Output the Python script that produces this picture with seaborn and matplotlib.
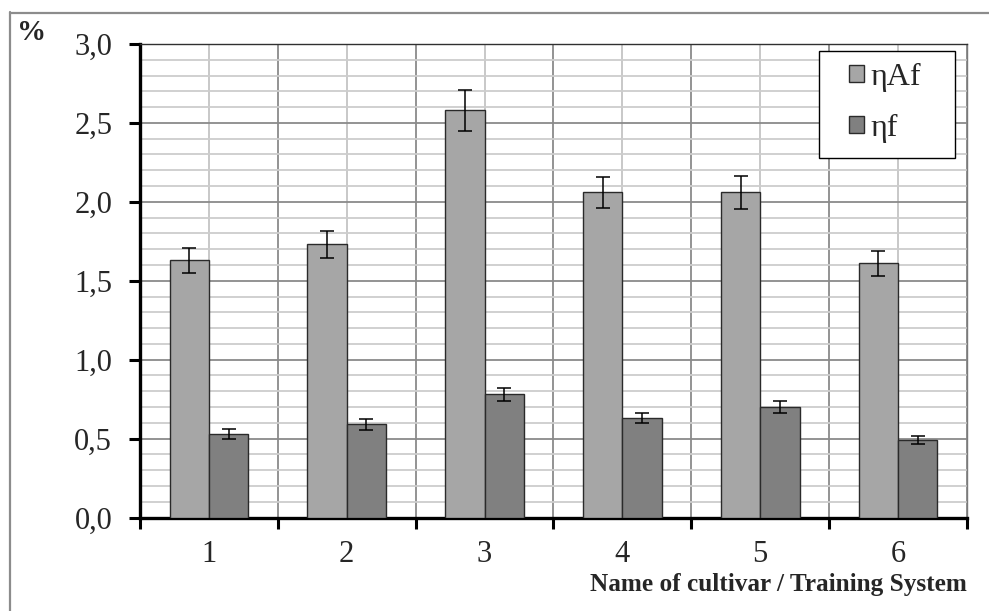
import numpy as np
import pandas as pd
import matplotlib
matplotlib.use("Agg")
import matplotlib.pyplot as plt
import seaborn as sns
from matplotlib.ticker import MultipleLocator, FixedLocator
from matplotlib.lines import Line2D
from matplotlib.patches import Rectangle

# ---- data ----
categories = ["1", "2", "3", "4", "5", "6"]
series_names = ["ηAf", "ηf"]
eta_af = [1.63, 1.73, 2.58, 2.06, 2.06, 1.61]
eta_af_err = [0.08, 0.085, 0.13, 0.10, 0.105, 0.08]
eta_f = [0.53, 0.59, 0.78, 0.63, 0.70, 0.49]
eta_f_err = [0.03, 0.034, 0.04, 0.03, 0.037, 0.025]
y_ticks = [0.0, 0.5, 1.0, 1.5, 2.0, 2.5, 3.0]
y_labels = ["0,0", "0,5", "1,0", "1,5", "2,0", "2,5", "3,0"]
colors = ["#a6a6a6", "#808080"]

sns.set_style("white")
SERIF = ['Liberation Serif', 'DejaVu Serif']
plt.rcParams['font.family'] = SERIF

df = pd.DataFrame({
    "cat": categories * 2,
    "series": [n for n in series_names for _ in categories],
    "value": eta_af + eta_f,
})

W, H = 989, 611
fig = plt.figure(figsize=(W / 100, H / 100), dpi=100)
ax = fig.add_axes([140 / W, 1 - 517.5 / H, (967 - 140) / W, (517.5 - 44) / H])

sns.barplot(data=df, x="cat", y="value", hue="series", palette=colors,
            width=0.57, errorbar=None, edgecolor="#2a2a2a", linewidth=1.0,
            ax=ax, zorder=3, saturation=1)

for cont, errs in zip(ax.containers, [eta_af_err, eta_f_err]):
    xs = [p.get_x() + p.get_width() / 2 for p in cont]
    ys = [p.get_height() for p in cont]
    ax.errorbar(xs, ys, yerr=errs, fmt="none", ecolor="black",
                elinewidth=1.1, capsize=4.8, capthick=1.1, zorder=4)

ax.set_xlim(-0.5, len(categories) - 0.5)
ax.set_ylim(0, 3.0)
ax.set_xlabel("")
ax.set_ylabel("")

ax.set_yticks(y_ticks)
ax.set_yticklabels(y_labels)
ax.yaxis.set_minor_locator(MultipleLocator(0.1))
ax.xaxis.set_minor_locator(FixedLocator(np.arange(-0.5, len(categories), 1.0)))

ax.set_axisbelow(True)
ax.yaxis.grid(True, which="major", color="#8a8a8a", linewidth=1.3)
ax.yaxis.grid(True, which="minor", color="#cdcdcd", linewidth=1.3)
ax.xaxis.grid(True, which="major", color="#c4c4c4", linewidth=1.3)
ax.xaxis.grid(True, which="minor", color="#8a8a8a", linewidth=1.3)

ax.tick_params(axis="y", which="major", direction="out", length=8, width=2.2,
               color="black", labelsize=22, pad=12, left=True)
ax.tick_params(axis="y", which="minor", length=0)
ax.tick_params(axis="x", which="major", length=0, labelsize=22, pad=16)
ax.tick_params(axis="x", which="minor", direction="out", length=8, width=2.2,
               color="black", bottom=True)

for s in ["left", "bottom"]:
    ax.spines[s].set_color("black")
    ax.spines[s].set_linewidth(2.4)
ax.spines["top"].set_color("#303030")
ax.spines["top"].set_linewidth(1.0)
ax.spines["right"].set_color("#7a7a7a")
ax.spines["right"].set_linewidth(1.0)

# legend
handles, labels = ax.get_legend_handles_labels()
if ax.get_legend() is not None:
    ax.get_legend().remove()
x0 = (819 - 140) / 827
x1 = (955 - 140) / 827
yt = (517.5 - 51) / 473.5
yb = (517.5 - 158) / 473.5
frame = Rectangle((x0, yb), x1 - x0, yt - yb, transform=ax.transAxes,
                  facecolor="white", edgecolor="black", linewidth=1.0, zorder=5)
ax.add_patch(frame)
leg = ax.legend(handles, labels, loc="upper left",
                bbox_to_anchor=((852 - 140) / 827 - 0.004, (517.5 - 63) / 473.5),
                frameon=False, prop={"family": SERIF, "size": 23},
                handlelength=0.48, handleheight=0.44,
                handletextpad=0.2, labelspacing=0.68, borderpad=0, borderaxespad=0)
leg.set_zorder(6)
for t in leg.get_texts():
    t.set_family(SERIF)

# texts
fig.text(32 / W, 1 - 32 / H, "%", ha="center", va="center",
         fontsize=21, fontweight="bold", family=SERIF)
fig.text(967 / W, 1 - 584 / H, "Name of cultivar / Training System",
         ha="right", va="center", fontsize=18.2, fontweight="bold", family=SERIF)

# outer frame (left and top edges)
fig.add_artist(Line2D([9.5 / W, 9.5 / W], [0, 1 - 12 / H], transform=fig.transFigure,
                      color="#8c8c8c", linewidth=1.6))
fig.add_artist(Line2D([9.5 / W, 1], [1 - 12.5 / H, 1 - 12.5 / H], transform=fig.transFigure,
                      color="#8c8c8c", linewidth=1.6))

fig.savefig("out.png", dpi=100)
